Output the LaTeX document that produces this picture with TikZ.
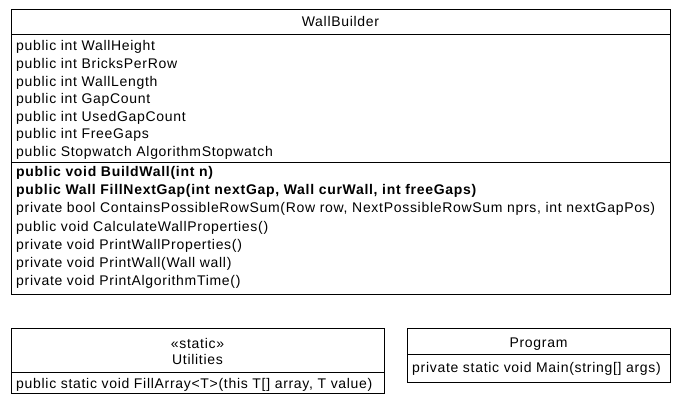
\documentclass[tikz,border=0pt]{standalone}
\usepackage{fontspec}
\setmainfont{Liberation Sans}[LetterSpace=5]
\begin{document}
\begin{tikzpicture}[x=1pt,y=-1pt,
  box/.style={draw=black, line width=1pt, rectangle, inner sep=0pt, anchor=north west},
  sep/.style={draw=black, line width=1pt},
  txt/.style={anchor=base west, inner sep=0pt, font=\fontsize{14}{16}\selectfont},
  ctxt/.style={anchor=base, inner sep=0pt, font=\fontsize{14}{16}\selectfont},
  btxt/.style={txt, font=\fontsize{14}{16}\selectfont\bfseries}]
\useasboundingbox (0,0) rectangle (687,403);
% WallBuilder
\node[box, minimum width=659pt, minimum height=284.5pt] (wb) at (11,9.5) {};
\coordinate (wbs1) at (11,35);
\coordinate (wbs2) at (11,162.5);
\draw[sep] (wbs1) -- (wbs1 -| wb.east);
\draw[sep] (wbs2) -- (wbs2 -| wb.east);
\node[ctxt] (wbt) at (340.5,27) {WallBuilder};
\node[txt] (a1) at (16,51) {public int WallHeight};
\node[txt] (a2) at (16,68.6) {public int BricksPerRow};
\node[txt] (a3) at (16,86.2) {public int WallLength};
\node[txt] (a4) at (16,103.8) {public int GapCount};
\node[txt] (a5) at (16,121.4) {public int UsedGapCount};
\node[txt] (a6) at (16,139) {public int FreeGaps};
\node[txt] (a7) at (16,156.6) {public Stopwatch AlgorithmStopwatch};
\node[btxt] (m1) at (16,177) {public void BuildWall(int n)};
\node[btxt] (m2) at (16,195) {public Wall FillNextGap(int nextGap, Wall curWall, int freeGaps)};
\node[txt] (m3) at (16,213) {private bool ContainsPossibleRowSum(Row row, NextPossibleRowSum nprs, int nextGapPos)};
\node[txt] (m4) at (16,231) {public void CalculateWallProperties()};
\node[txt] (m5) at (16,249) {private void PrintWallProperties()};
\node[txt] (m6) at (16,267) {private void PrintWall(Wall wall)};
\node[txt] (m7) at (16,285) {private void PrintAlgorithmTime()};
% Utilities
\node[box, minimum width=373pt, minimum height=65pt] (ut) at (11,328) {};
\coordinate (uts) at (11,372);
\draw[sep] (uts) -- (uts -| ut.east);
\node[ctxt] (ut1) at (197.5,348) {«static»};
\node[ctxt] (ut2) at (197.5,364) {Utilities};
\node[txt] (ut3) at (16,388) {public static void FillArray<T>(this T[] array, T value)};
% Program
\node[box, minimum width=263pt, minimum height=54pt] (pg) at (407,328) {};
\coordinate (pgs) at (407,354);
\draw[sep] (pgs) -- (pgs -| pg.east);
\node[ctxt] (pg1) at (538.5,347) {Program};
\node[txt] (pg2) at (412,372) {private static void Main(string[] args)};
\end{tikzpicture}
\end{document}
